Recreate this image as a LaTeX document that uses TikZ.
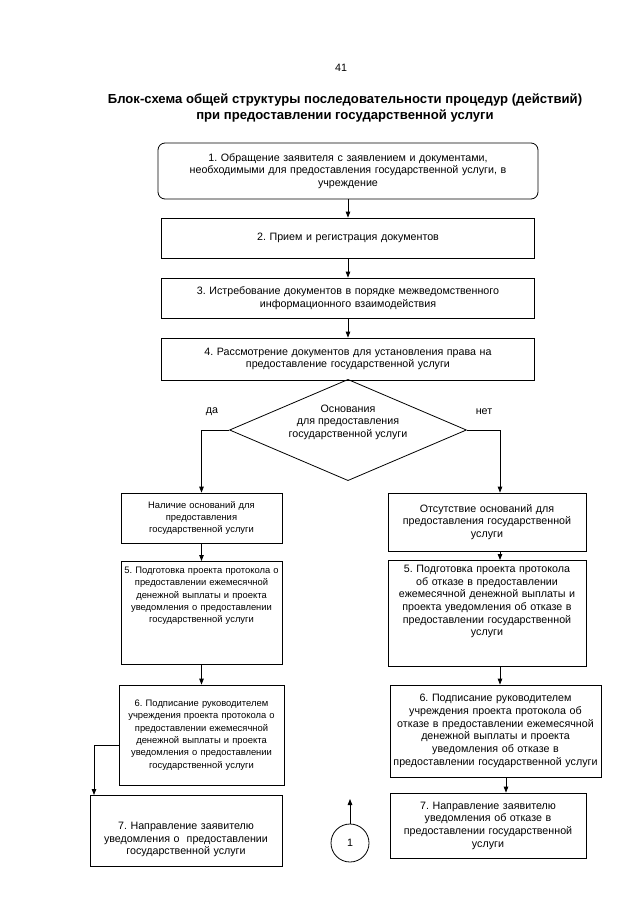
\documentclass[tikz,border=0pt]{standalone}
\usepackage{fontspec}
\setmainfont{Liberation Sans}
\usetikzlibrary{shapes.geometric, arrows.meta}
\frenchspacing

\begin{document}
\begin{tikzpicture}[x=1pt, y=-1pt,
  blk/.style={draw, rectangle, line width=0.8pt, align=center, inner xsep=-10pt, inner ysep=3pt, font=\fontsize{10.7}{12.7}\selectfont},
  sml/.style={font=\fontsize{9.4}{12.3}\selectfont},
  dia/.style={draw, diamond, line width=0.8pt, aspect=2.34, inner sep=0pt, minimum width=234pt, minimum height=100pt, align=center, font=\fontsize{10.7}{12.7}\selectfont},
  arr/.style={line width=0.8pt, -{Triangle[length=6pt, width=4.5pt]}},
  lbl/.style={font=\fontsize{10.7}{12.7}\selectfont}]
\useasboundingbox (0,0) rectangle (640,905);

\node[lbl] (page) at (341,68) {41};
\node[align=center, font=\fontsize{13.1}{16}\selectfont\bfseries] (title) at (345,108) {Блок-схема общей структуры последовательности процедур (действий)\\при предоставлении государственной услуги};

\node[blk, rounded corners=7pt, text width=400pt, minimum height=56pt] (b1) at (348,171) {1. Обращение заявителя с заявлением и документами,\\необходимыми для предоставления государственной услуги, в\\учреждение};
\node[blk, text width=393pt, minimum height=40pt] (b2) at (348,238) {2. Прием и регистрация документов};
\node[blk, text width=393pt, minimum height=40pt] (b3) at (348,298) {3. Истребование документов в порядке межведомственного\\информационного взаимодействия};
\node[blk, text width=393pt, minimum height=42pt] (b4) at (348,359) {4. Рассмотрение документов для установления права на\\предоставление государственной услуги};
\node[dia] (dia) at (348,430) {Основания\\для предоставления\\государственной услуги\\[5pt]};
\node[lbl] (da) at (212,412) {да};
\node[lbl] (net) at (484,412) {нет};

\node[blk, sml, text width=181pt, minimum height=50pt] (yes) at (201.5,518) {Наличие оснований для\\предоставления\\государственной услуги};
\node[blk, sml, text width=181pt, anchor=north, text height=9pt, text depth=88pt] (yes5) at (201.5,561) {5. Подготовка проекта протокола о\\предоставлении ежемесячной\\денежной выплаты и проекта\\уведомления о предоставлении\\государственной услуги};
\node[blk, sml, text width=185pt, minimum height=100pt] (yes6) at (201.5,735) {6. Подписание руководителем\\учреждения проекта протокола о\\предоставлении ежемесячной\\денежной выплаты и проекта\\уведомления о предоставлении\\государственной услуги};
\node[blk, text width=212pt, anchor=north, text height=31pt, text depth=34pt] (yes7) at (186,795) {7. Направление заявителю\\уведомления о~ предоставлении\\государственной услуги};

\node[blk, text width=218pt, minimum height=58pt] (no) at (487,522) {Отсутствие оснований для\\предоставления государственной\\услуги};
\node[blk, text width=218pt, anchor=north, text height=9pt, text depth=91pt] (no5) at (487,560) {5. Подготовка проекта протокола\\об отказе в предоставлении\\ежемесячной денежной выплаты и\\проекта уведомления об отказе в\\предоставлении государственной\\услуги};
\node[blk, text width=231pt, minimum height=92pt] (no6) at (495.5,731) {6. Подписание руководителем\\учреждения проекта протокола об\\отказе в предоставлении ежемесячной\\денежной выплаты и проекта\\уведомления об отказе в\\предоставлении государственной услуги};
\node[blk, text width=216pt, minimum height=65pt] (no7) at (488,825.5) {7. Направление заявителю\\уведомления об отказе в\\предоставлении государственной\\услуги};

\node[draw, circle, line width=0.8pt, minimum size=38pt, inner sep=0pt, lbl] (one) at (350,843) {1};
\coordinate (up) at (350,799);
\coordinate (rx) at (500,0);
\coordinate (rx2) at (506,0);
\coordinate (ya) at (94,745);

\draw[arr] (b1) -- (b2);
\draw[arr] (b2) -- (b3);
\draw[arr] (b3) -- (b4);
\draw[arr] (dia.west) -| (yes.north);
\draw[arr] (dia.east) -| (no.north -| rx);
\draw[arr] (yes) -- (yes5);
\draw[arr] (yes5) -- (yes6);
\draw[arr] (yes6.west |- ya) -| (yes7.north -| ya);
\draw[arr] (no.south -| rx) -- (no5.north -| rx);
\draw[arr] (no5.south -| rx) -- (no6.north -| rx);
\draw[arr] (no6.south -| rx2) -- (no7.north -| rx2);
\draw[arr] (one) -- (up);
\end{tikzpicture}
\end{document}
